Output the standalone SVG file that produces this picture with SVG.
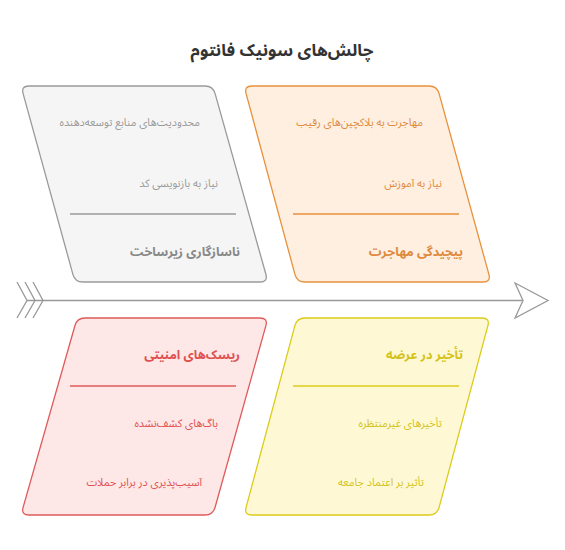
<svg xmlns="http://www.w3.org/2000/svg" width="565" height="550" viewBox="0 0 565 550">
<style>
text{font-family:"Noto Sans Arabic","DejaVu Sans","Noto Sans",sans-serif;text-anchor:end}
.title{font-size:17px;font-weight:bold;fill:#333;text-anchor:middle}
.item{font-size:10.8px}
.head{font-size:12.6px;font-weight:bold}
.g path{fill:#f5f5f5;stroke:#9a9a9a}
.g line{stroke:#9a9a9a}
.g text{fill:#999}
.g .head{fill:#888}
.o path{fill:#feefe0;stroke:#e8913a}
.o line{stroke:#e8913a}
.o text{fill:#e08a3c}
.r path{fill:#fde7e7;stroke:#e05a5a}
.r line{stroke:#e05a5a}
.r text{fill:#e05050}
.y path{fill:#fef9d4;stroke:#dccb1a}
.y line{stroke:#dccb1a}
.y text{fill:#d4c219}
path,line{stroke-width:1.3}
.conn{fill:none;stroke:#999;stroke-width:1.3}
</style>
<rect width="565" height="550" fill="#fff"/>
<text class="title" x="282" y="56">چالش‌های سونیک فانتوم</text>
<g id="connectors">
<line class="conn" x1="27" y1="300.5" x2="523" y2="300.5"/>
<path class="conn" d="M515,283 L548,300.5 L515,318 L523,300.5 Z" style="fill:#fff"/>
<path class="conn" d="M17,282 L27,300.5 L17,318 M25,282 L35,300.5 L25,318 M33,282 L43,300.5 L33,318"/>
</g>
<g id="infra" class="g">
<path d="M29,86 L205,86 Q213,86 215.1,93.7 L265.9,274.3 Q268,282 260,282 L83,282 Q75,282 72.9,274.3 L23.1,93.7 Q21,86 29,86 Z"/>
<text class="item" x="200" y="126">محدودیت‌های منابع توسعه‌دهنده</text>
<text class="item" x="218" y="187">نیاز به بازنویسی کد</text>
<line x1="70" y1="214" x2="236" y2="214"/>
<text class="head" x="240" y="256">ناسازگاری زیرساخت</text>
</g>
<g id="migration" class="o">
<path d="M252,86 L429,86 Q437,86 439.1,93.7 L488.9,274.3 Q491,282 483,282 L305,282 Q297,282 294.9,274.3 L246.1,93.7 Q244,86 252,86 Z"/>
<text class="item" x="423" y="126">مهاجرت به بلاکچین‌های رقیب</text>
<text class="item" x="442" y="187">نیاز به آموزش</text>
<line x1="293" y1="214" x2="459" y2="214"/>
<text class="head" x="463" y="256">پیچیدگی مهاجرت</text>
</g>
<g id="security" class="r">
<path d="M85,318 L260,318 Q268,318 265.9,325.7 L215.1,507.3 Q213,515 205,515 L29,515 Q21,515 23.1,507.3 L74.9,325.7 Q77,318 85,318 Z"/>
<text class="head" x="240" y="359">ریسک‌های امنیتی</text>
<line x1="70" y1="386" x2="236" y2="386"/>
<text class="item" x="218" y="427">باگ‌های کشف‌نشده</text>
<text class="item" x="202" y="486">آسیب‌پذیری در برابر حملات</text>
</g>
<g id="delay" class="y">
<path d="M305,318 L482,318 Q490,318 487.9,325.7 L439.1,507.3 Q437,515 429,515 L252,515 Q244,515 246.1,507.3 L294.9,325.7 Q297,318 305,318 Z"/>
<text class="head" x="463" y="359">تأخیر در عرضه</text>
<line x1="293" y1="386" x2="459" y2="386"/>
<text class="item" x="442" y="427">تأخیرهای غیرمنتظره</text>
<text class="item" x="424" y="486">تأثیر بر اعتماد جامعه</text>
</g>
</svg>
